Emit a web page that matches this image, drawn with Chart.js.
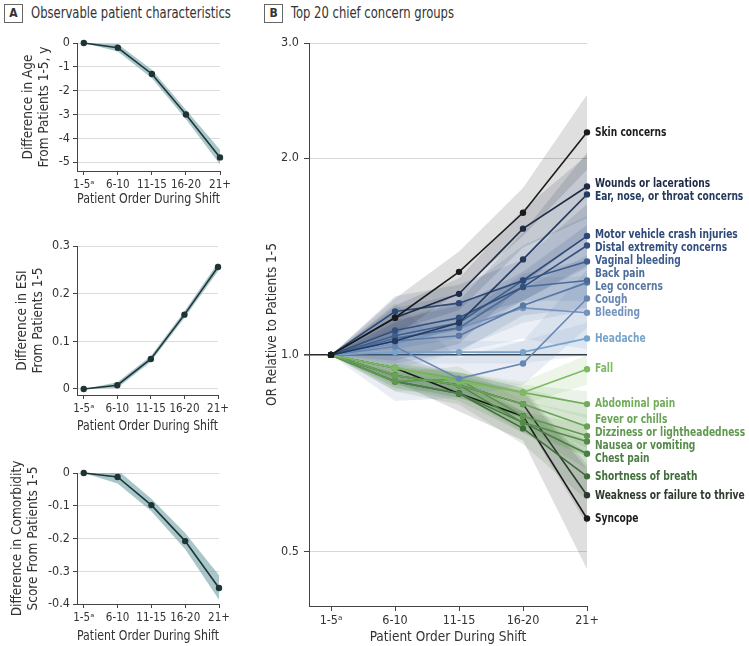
<!DOCTYPE html>
<html>
<head>
<meta charset="utf-8">
<script src="https://cdn.jsdelivr.net/npm/chart.js@4"></script>
<style>
body { margin: 0; background: #fff; }
#wrap { position: relative; width: 749px; height: 646px; font-family: "DejaVu Sans Condensed", "DejaVu Sans", sans-serif; color: #333; }
.hd { position: absolute; top: 4px; font-size: 15px; line-height: 19px; white-space: nowrap; }
.hd b { display: inline-block; width: 17px; height: 17px; border: 1px solid #666; text-align: center; font-size: 12px; line-height: 17px; margin-right: 8px; vertical-align: top; }
.hd span { display: inline-block; transform: scaleX(0.86); transform-origin: left center; }
canvas { position: absolute; }
</style>
</head>
<body>
<div id="wrap">
  <div class="hd" style="left:4px"><b>A</b><span>Observable patient characteristics</span></div>
  <div class="hd" style="left:264px"><b>B</b><span>Top 20 chief concern groups</span></div>
  <canvas id="a1" width="240" height="215" style="left:0;top:0"></canvas>
  <canvas id="a2" width="240" height="225" style="left:0;top:215px"></canvas>
  <canvas id="a3" width="240" height="216" style="left:0;top:430px"></canvas>
  <canvas id="b" width="499" height="646" style="left:250px;top:0"></canvas>
</div>
<script>
const categories = ['1-5\u1D43', '6-10', '11-15', '16-20', '21+'];

// panel A: difference from patients 1-5, with 95% CI
const ageDiff = [0, -0.2, -1.3, -3.0, -4.8];
const ageLow  = [0, -0.36, -1.48, -3.2, -5.1];
const ageHigh = [0, -0.04, -1.12, -2.8, -4.48];
const ageTicks = [0, -1, -2, -3, -4, -5];

const esiDiff = [0, 0.008, 0.063, 0.156, 0.256];
const esiLow  = [0, 0.002, 0.057, 0.149, 0.247];
const esiHigh = [0, 0.014, 0.069, 0.163, 0.265];
const esiTicks = [0, 0.1, 0.2, 0.3];

const comorbDiff = [0, -0.012, -0.098, -0.208, -0.351];
const comorbLow  = [0, -0.032, -0.117, -0.233, -0.387];
const comorbHigh = [0, 0.009, -0.079, -0.183, -0.312];
const comorbTicks = [0, -0.1, -0.2, -0.3, -0.4];

// panel B: odds ratios relative to patients 1-5
const groups = ['Skin concerns', 'Wounds or lacerations', 'Ear, nose, or throat concerns',
  'Motor vehicle crash injuries', 'Distal extremity concerns', 'Vaginal bleeding', 'Back pain',
  'Leg concerns', 'Cough', 'Bleeding', 'Headache', 'Fall', 'Abdominal pain', 'Fever or chills',
  'Dizziness or lightheadedness', 'Nausea or vomiting', 'Chest pain', 'Shortness of breath',
  'Weakness or failure to thrive', 'Syncope'];
const orValues = [
  [1, 1.14, 1.34, 1.65, 2.19],
  [1, 1.14, 1.24, 1.56, 1.81],
  [1, 1.05, 1.12, 1.40, 1.76],
  [1, 1.165, 1.20, 1.30, 1.52],
  [1, 1.09, 1.14, 1.27, 1.47],
  [1, 1.07, 1.12, 1.30, 1.39],
  [1, 1.06, 1.10, 1.27, 1.30],
  [1, 1.05, 1.07, 1.19, 1.29],
  [1, 1.03, 0.92, 0.97, 1.22],
  [1, 1.04, 1.10, 1.18, 1.16],
  [1, 1.01, 1.01, 1.01, 1.06],
  [1, 0.955, 0.911, 0.876, 0.951],
  [1, 0.955, 0.918, 0.876, 0.841],
  [1, 0.93, 0.899, 0.841, 0.777],
  [1, 0.911, 0.918, 0.806, 0.752],
  [1, 0.93, 0.899, 0.788, 0.737],
  [1, 0.911, 0.873, 0.788, 0.706],
  [1, 0.911, 0.873, 0.772, 0.652],
  [1, 0.93, 0.899, 0.841, 0.610],
  [1, 0.955, 0.873, 0.806, 0.562]
];
const orLow = [
  [1, 1.07, 1.25, 1.52, 1.92],
  [1, 1.09, 1.17, 1.46, 1.62],
  [1, 0.98, 1.04, 1.28, 1.52],
  [1, 1.10, 1.13, 1.21, 1.36],
  [1, 1.05, 1.09, 1.21, 1.37],
  [1, 0.97, 1.01, 1.15, 1.18],
  [1, 1.02, 1.06, 1.21, 1.21],
  [1, 1.00, 1.02, 1.12, 1.17],
  [1, 0.85, 0.86, 0.90, 1.10],
  [1, 0.95, 1.01, 1.06, 1.02],
  [1, 0.97, 0.97, 0.97, 1.00],
  [1, 0.93, 0.88, 0.84, 0.90],
  [1, 0.94, 0.90, 0.85, 0.80],
  [1, 0.89, 0.86, 0.80, 0.72],
  [1, 0.88, 0.88, 0.77, 0.70],
  [1, 0.91, 0.87, 0.76, 0.70],
  [1, 0.89, 0.85, 0.76, 0.67],
  [1, 0.88, 0.84, 0.73, 0.60],
  [1, 0.90, 0.86, 0.80, 0.55],
  [1, 0.91, 0.82, 0.74, 0.47]
];
const orHigh = [
  [1, 1.22, 1.44, 1.80, 2.50],
  [1, 1.19, 1.31, 1.67, 2.02],
  [1, 1.12, 1.21, 1.54, 2.04],
  [1, 1.23, 1.28, 1.40, 1.70],
  [1, 1.13, 1.19, 1.34, 1.58],
  [1, 1.18, 1.24, 1.47, 1.63],
  [1, 1.10, 1.14, 1.33, 1.40],
  [1, 1.10, 1.12, 1.26, 1.42],
  [1, 1.20, 0.99, 1.05, 1.35],
  [1, 1.14, 1.20, 1.31, 1.32],
  [1, 1.05, 1.05, 1.05, 1.12],
  [1, 0.98, 0.94, 0.91, 1.00],
  [1, 0.97, 0.94, 0.90, 0.88],
  [1, 0.97, 0.94, 0.89, 0.84],
  [1, 0.94, 0.96, 0.85, 0.81],
  [1, 0.95, 0.93, 0.82, 0.78],
  [1, 0.93, 0.90, 0.82, 0.74],
  [1, 0.94, 0.91, 0.82, 0.71],
  [1, 0.96, 0.94, 0.89, 0.68],
  [1, 1.00, 0.93, 0.88, 0.67]
];
const orTicks = [0.5, 1, 2, 3];

const groupColors = ['#1b1b1b', '#1f2b45', '#243a5e', '#2d4977', '#33507f', '#3e5e8e', '#4b6b9b',
  '#5878a5', '#6786b3', '#7593bf', '#78a3ca', '#7dba62', '#72ad5b', '#69a355', '#5f984f',
  '#548b48', '#4a7f43', '#3f6e3b', '#2d3a2d', '#1b1b1b'];

const FONT = '"DejaVu Sans Condensed", "DejaVu Sans", sans-serif';
const INK = '#333';

function pts(arr) { return arr.map((v, i) => ({ x: i + 1, y: v })); }
function alpha(hex, a) {
  const n = parseInt(hex.slice(1), 16);
  return 'rgba(' + (n >> 16) + ',' + ((n >> 8) & 255) + ',' + (n & 255) + ',' + a + ')';
}

function smallChart(id, mid, low, high, ticks, yMin, yMax, yTitle, box) {
  const c = document.getElementById(id);
  new Chart(c, {
    type: 'line',
    data: {
      datasets: [
        { data: pts(high), borderWidth: 0, pointRadius: 0, fill: false, order: 1 },
        { data: pts(low), borderWidth: 0, pointRadius: 0, fill: '-1', backgroundColor: 'rgba(112,160,166,0.6)', order: 1 },
        { data: pts(mid), borderColor: '#1f3434', backgroundColor: '#1f3434', borderWidth: 1.6, pointRadius: 2.4, clip: false, order: 0 }
      ]
    },
    options: {
      responsive: false, animation: false, events: [],
      plugins: { legend: { display: false }, tooltip: { enabled: false } },
      layout: { padding: { top: box.top, right: c.width - box.right, left: 0, bottom: 0 } },
      scales: {
        x: {
          type: 'linear', min: 0.8, max: 5,
          afterFit(s) { s.height = c.height - box.bottom; },
          afterBuildTicks(s) { s.ticks = categories.map((t, i) => ({ value: i + 1 })); },
          ticks: { callback: v => categories[v - 1], color: INK, font: { family: FONT, size: 11.5 }, padding: 3, maxRotation: 0, autoSkip: false },
          grid: { drawOnChartArea: false, tickLength: 4, tickColor: '#444' },
          border: { color: '#444' },
          title: { display: true, text: 'Patient Order During Shift', color: INK, font: { family: FONT, size: 13.5 }, padding: { top: 0, bottom: box.tb } }
        },
        y: {
          min: yMin, max: yMax,
          afterFit(s) { s.width = box.left; },
          afterBuildTicks(s) { s.ticks = ticks.map(v => ({ value: v })); },
          ticks: { callback: v => v === 0 ? '0' : String(v), color: INK, font: { family: FONT, size: 12.5 }, padding: 3 },
          grid: { color: '#dcdcdc', tickLength: 4, tickColor: '#444' },
          border: { color: '#444' },
          title: { display: true, text: yTitle, color: INK, font: { family: FONT, size: 13.5 }, padding: { top: box.tp, bottom: 0 } }
        }
      }
    }
  });
}

smallChart('a1', ageDiff, ageLow, ageHigh, ageTicks, -5.37, 0,
  ['Difference in Age', 'From Patients 1-5, y'], { left: 77, right: 220, top: 43, bottom: 171, tb: 7, tp: 20 });
smallChart('a2', esiDiff, esiLow, esiHigh, esiTicks, -0.0126, 0.3,
  ['Difference in ESI', 'From Patients 1-5'], { left: 77, right: 218, top: 31, bottom: 180, tb: 5, tp: 14 });
smallChart('a3', comorbDiff, comorbLow, comorbHigh, comorbTicks, -0.4, 0,
  ['Difference in Comorbidity', 'Score From Patients 1-5'], { left: 77, right: 219, top: 43, bottom: 174, tb: 1, tp: 9 });

// end-of-line labels for panel B, spread apart so they do not overlap
const endLabels = {
  id: 'endLabels',
  afterDatasetsDraw(chart) {
    const ys = chart.scales.y, xs = chart.scales.x;
    const items = groups.map((g, k) => ({ text: g, color: groupColors[k], y: ys.getPixelForValue(orValues[k][4]) }));
    items.sort((a, b) => a.y - b.y);
    const gap = 13;
    for (let it = 0; it < 200; it++) {
      for (let i = 1; i < items.length; i++) {
        const d = gap - (items[i].y - items[i - 1].y);
        if (d > 0) { items[i - 1].y -= d / 2; items[i].y += d / 2; }
      }
    }
    const ctx = chart.ctx;
    const x = xs.getPixelForValue(5) + 8;
    ctx.save();
    ctx.font = 'bold 12.5px ' + FONT;
    ctx.textBaseline = 'middle';
    items.forEach(o => {
      ctx.save();
      ctx.translate(x, o.y);
      ctx.scale(0.81, 1);
      ctx.fillStyle = o.color;
      ctx.fillText(o.text, 0, 0);
      ctx.restore();
    });
    ctx.restore();
  }
};

const bc = document.getElementById('b');
const bSets = [];
groups.forEach((g, k) => {
  const col = groupColors[k];
  bSets.push({ data: pts(orHigh[k]), borderWidth: 0, pointRadius: 0, fill: false, order: 1 });
  bSets.push({ data: pts(orLow[k]), borderWidth: 0, pointRadius: 0, fill: '-1', backgroundColor: alpha(col, 0.14), order: 1 });
  bSets.push({ label: g, data: pts(orValues[k]), borderColor: col, backgroundColor: col, borderWidth: 1.6, pointRadius: 2.4, clip: false, order: 0 });
});

new Chart(bc, {
  type: 'line',
  data: { datasets: bSets },
  plugins: [endLabels],
  options: {
    responsive: false, animation: false, events: [],
    plugins: { legend: { display: false }, tooltip: { enabled: false } },
    layout: { padding: { top: 43, right: 162, left: 0, bottom: 0 } },
    scales: {
      x: {
        type: 'linear', min: 0.656, max: 5,
        afterFit(s) { s.height = bc.height - 606; },
        afterBuildTicks(s) { s.ticks = categories.map((t, i) => ({ value: i + 1 })); },
        ticks: { callback: v => categories[v - 1], color: INK, font: { family: FONT, size: 12.5 }, padding: 2, maxRotation: 0, autoSkip: false },
        grid: { drawOnChartArea: false, tickLength: 5, tickColor: '#444' },
        border: { color: '#444' },
        title: { display: true, text: 'Patient Order During Shift', color: INK, font: { family: FONT, size: 13.5 }, padding: { top: 0, bottom: 0 } }
      },
      y: {
        type: 'logarithmic', min: 0.413, max: 3,
        afterFit(s) { s.width = 59; },
        afterBuildTicks(s) { s.ticks = orTicks.map(v => ({ value: v })); },
        ticks: { callback: v => Number(v).toFixed(1), color: INK, font: { family: FONT, size: 12.5 }, padding: 5 },
        grid: {
          color: c => c.tick && c.tick.value === 1 ? '#2a2a2a' : '#d8d8d8',
          lineWidth: c => c.tick && c.tick.value === 1 ? 1.6 : 1,
          tickLength: 5, tickColor: '#444'
        },
        border: { color: '#444' },
        title: { display: true, text: 'OR Relative to Patients 1-5', color: INK, font: { family: FONT, size: 13.5 }, padding: { top: 14, bottom: 0 } }
      }
    }
  }
});
</script>
</body>
</html>
